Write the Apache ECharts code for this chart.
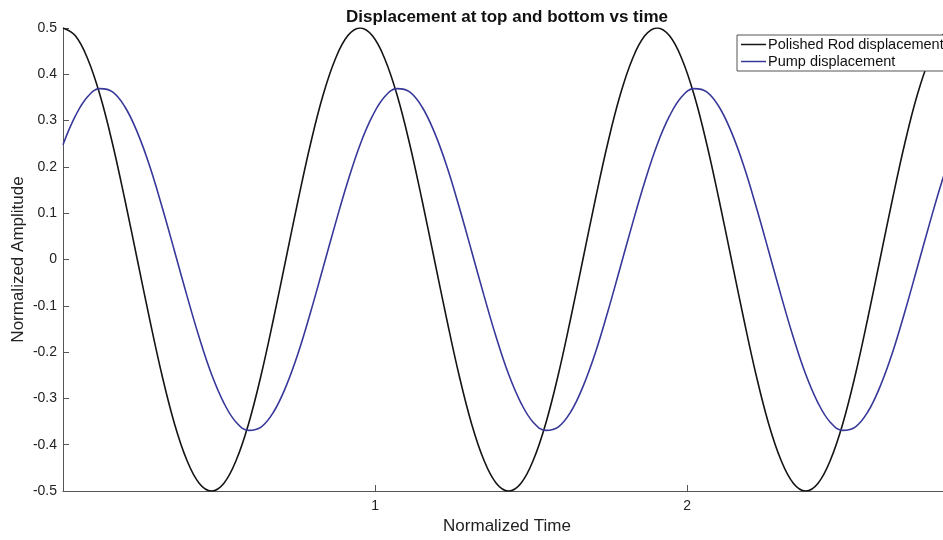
<!DOCTYPE html>
<html><head><meta charset="utf-8">
<script src="https://cdn.jsdelivr.net/npm/echarts@6/dist/echarts.min.js"></script>
<style>html,body{margin:0;padding:0;background:#fff}#c{width:943px;height:540px}</style>
</head><body><div id="c"></div>
<script>
var titleText = 'Displacement at top and bottom vs time';
var seriesNames = ['Polished Rod displacement', 'Pump displacement'];
var timeValues = [0,0.0397,0.0793,0.1190,0.1587,0.1983,0.2380,0.2777,0.3173,0.3570,0.3967,0.4363,0.4760,0.5157,0.5553,0.5950,0.6347,0.6743,0.7140,0.7537,0.7933,0.8330,0.8727,0.9123,
0.9520,0.9917,1.0313,1.0710,1.1107,1.1503,1.1900,1.2297,1.2693,1.3090,1.3487,1.3883,1.4280,1.4677,1.5073,1.5470,1.5867,1.6263,1.6660,1.7057,1.7453,1.7850,1.8247,1.8643,
1.9040,1.9437,1.9833,2.0230,2.0627,2.1023,2.1420,2.1817,2.2213,2.2610,2.3007,2.3403,2.3800,2.4197,2.4593,2.4990,2.5387,2.5783,2.6180,2.6577,2.6973,2.7370,2.7767,2.8163,2.8560];
var rodValues = [0.5,0.483,0.433,0.354,0.25,0.129,0,-0.129,-0.25,-0.354,-0.433,-0.483,-0.5,-0.483,-0.433,-0.354,-0.25,-0.129,0,0.129,0.25,0.354,0.433,0.483,
0.5,0.483,0.433,0.354,0.25,0.129,0,-0.129,-0.25,-0.354,-0.433,-0.483,-0.5,-0.483,-0.433,-0.354,-0.25,-0.129,0,0.129,0.25,0.354,0.433,0.483,
0.5,0.483,0.433,0.354,0.25,0.129,0,-0.129,-0.25,-0.354,-0.433,-0.483,-0.5,-0.483,-0.433,-0.354,-0.25,-0.129,0,0.129,0.25,0.354,0.433,0.483,0.5];
var pumpValues = [0.248,0.310,0.352,0.369,0.362,0.330,0.275,0.202,0.114,0.019,-0.077,-0.168,-0.248,-0.310,-0.352,-0.369,-0.362,-0.330,-0.275,-0.202,-0.114,-0.019,0.077,0.168,
0.248,0.310,0.352,0.369,0.362,0.330,0.275,0.202,0.114,0.019,-0.077,-0.168,-0.248,-0.310,-0.352,-0.369,-0.362,-0.330,-0.275,-0.202,-0.114,-0.019,0.077,0.168,
0.248,0.310,0.352,0.369,0.362,0.330,0.275,0.202,0.114,0.019,-0.077,-0.168,-0.248,-0.310,-0.352,-0.369,-0.362,-0.330,-0.275,-0.202,-0.114,-0.019,0.077,0.168,0.248];
var xTicks = [1, 2];

function pairs(xs, ys){ var out=[]; for (var i=0;i<xs.length;i++) out.push([xs[i], ys[i]]); return out; }

var font = 'Liberation Sans, Arial, Helvetica, sans-serif';
var chart = echarts.init(document.getElementById('c'), null, {renderer:'canvas'});
chart.setOption({
  backgroundColor:'#fff',
  animation:false,
  title:{text:titleText, left:502, textAlign:'center', top:4,
    textStyle:{fontFamily:font, fontSize:17, fontWeight:'bold', color:'#111'}},
  legend:{orient:'vertical', left:737, top:35, itemGap:0, itemWidth:25, itemHeight:1.5, icon:'rect',
    backgroundColor:'#fff', borderColor:'#555', borderWidth:1, padding:[1,12,1,4],
    textStyle:{fontFamily:font, fontSize:14.5, lineHeight:17, color:'#111', padding:[0,0,0,-3]},
    data:seriesNames},
  grid:{left:63, right:0, top:28, bottom:49, containLabel:false, outerBoundsMode:'none'},
  xAxis:{type:'value', min:0, max:2.82, interval:1,
    name:'Normalized Time', nameLocation:'middle', nameGap:25,
    nameTextStyle:{fontFamily:font, fontSize:17, color:'#222', padding:[0,0,0,8]},
    axisLine:{show:true, onZero:false, lineStyle:{color:'#555', width:1}},
    axisTick:{show:true, inside:true, length:6, lineStyle:{color:'#555'}},
    axisLabel:{show:true, showMinLabel:false, showMaxLabel:false, margin:8,
      fontFamily:font, fontSize:14, color:'#222',
      formatter:function(v){ return xTicks.indexOf(v) >= 0 ? String(v) : ''; }},
    splitLine:{show:false}},
  yAxis:{type:'value', min:-0.5, max:0.5, interval:0.1,
    name:'Normalized Amplitude', nameLocation:'middle', nameGap:36, nameMoveOverlap:false,
    nameTextStyle:{fontFamily:font, fontSize:17, color:'#222'},
    axisLine:{show:true, onZero:false, lineStyle:{color:'#555', width:1}},
    axisTick:{show:true, inside:true, length:6, lineStyle:{color:'#555'}},
    axisLabel:{margin:6, fontFamily:font, fontSize:14, color:'#222',
      formatter:function(v){ return String(Math.round(v*10)/10); }},
    splitLine:{show:false}},
  series:[
    {name:seriesNames[0], type:'line', data:pairs(timeValues, rodValues), smooth:0.4,
      symbol:'none', clip:true, lineStyle:{color:'#151515', width:1.6}, itemStyle:{color:'#151515'}},
    {name:seriesNames[1], type:'line', data:pairs(timeValues, pumpValues), smooth:0.4,
      symbol:'none', clip:true, lineStyle:{color:'#38389a', width:1.6}, itemStyle:{color:'#38389a'}}
  ]
});
</script></body></html>
